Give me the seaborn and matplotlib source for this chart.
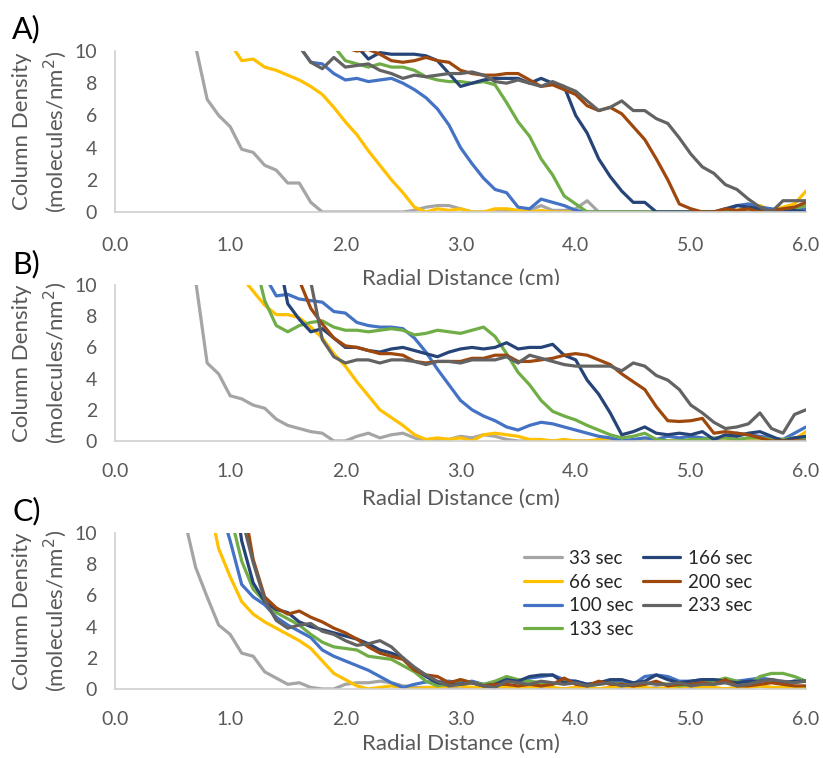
import numpy as np
import pandas as pd
import matplotlib
matplotlib.use("Agg")
import matplotlib.pyplot as plt
import seaborn as sns

# ---------------- data ----------------
X_GRID = [round(i / 10, 1) for i in range(61)]   # 0.0 ... 6.0 cm
SERIES = ["33 sec", "66 sec", "100 sec", "133 sec", "166 sec", "200 sec", "233 sec"]
COLORS = ["#A5A5A5", "#FFC000", "#4472C4", "#70AD47", "#264478", "#9E480E", "#636363"]

# ---- Panel A (start x, values) ----
A_33_start = 0.7
A_33 = [10.3, 7.0, 6.0, 5.3, 3.9, 3.7, 2.9, 2.6, 1.8, 1.8, 0.6, 0, 0, 0, 0, 0, 0, 0, 0,
        0.1, 0.3, 0.4, 0.4, 0.2, 0, 0, 0, 0.1, 0, 0.1, 0.4, 0.1, 0.1, 0.2, 0.7, 0,
        0, 0, 0, 0, 0, 0, 0, 0, 0, 0, 0, 0, 0, 0, 0, 0, 0, 0]
A_66_start = 1.0
A_66 = [10.5, 9.4, 9.5, 9.0, 8.8, 8.5, 8.2, 7.8, 7.3, 6.5, 5.6, 4.8, 3.8, 2.9, 2.0, 1.2,
        0.3, 0, 0.2, 0.1, 0.2, 0, 0, 0.2, 0.2, 0.1, 0, 0.1, 0, 0, 0,
        0, 0, 0, 0, 0, 0, 0, 0, 0, 0, 0, 0, 0, 0.1,
        0.3, 0.4, 0.1, 0.3, 0.5, 1.3]
A_100_start = 1.6
A_100 = [10.3, 9.3, 9.2, 8.6, 8.2, 8.3, 8.1, 8.2, 8.3, 8.0, 7.6, 7.1, 6.4, 5.4, 4.0, 3.0,
         2.1, 1.4, 1.2, 0.3, 0.2, 0.8, 0.6, 0.4, 0.1,
         0, 0, 0, 0, 0, 0, 0, 0, 0, 0, 0, 0, 0,
         0.4, 0.5, 0.3, 0.2, 0.1, 0.1, 0.2]
A_133_start = 1.9
A_133 = [10.3, 9.4, 9.2, 9.0, 9.2, 9.0, 9.0, 8.8, 8.4, 8.2, 8.1, 8.1, 8.0, 8.1, 7.9, 6.8,
         5.6, 4.7, 3.3, 2.3, 1.0, 0.5, 0,
         0, 0, 0, 0, 0, 0, 0, 0, 0, 0, 0, 0, 0, 0.2, 0.1, 0, 0.1, 0.2, 0.4]
A_166_start = 2.1
A_166 = [10.3, 9.5, 9.9, 9.8, 9.8, 9.8, 9.7, 9.4, 8.6, 7.8, 8.0, 8.2, 8.3, 8.3, 8.3, 8.0,
         8.3, 8.0, 7.8, 6.0, 4.9, 3.3, 2.2, 1.3, 0.6, 0.6, 0,
         0, 0, 0, 0, 0, 0.2, 0.4, 0.3, 0.2, 0, 0, 0.1, 0]
A_200_start = 2.0
A_200 = [10.2, 10.0, 10.1, 9.8, 9.4, 9.3, 9.4, 9.6, 9.4, 9.3, 8.8, 8.6, 8.5, 8.5, 8.6, 8.6,
         8.2, 7.8, 7.9, 7.6, 7.3, 6.6, 6.3, 6.5, 6.1, 5.3, 4.5, 3.3, 2.0, 0.5, 0.2, 0,
         0, 0.2, 0.1, 0.2, 0, 0.1, 0.2, 0.3, 0.6]
A_233_start = 1.6
A_233 = [10.3, 9.3, 8.9, 9.6, 9.0, 9.1, 9.2, 8.8, 8.6, 8.3, 8.5, 8.4, 8.5, 8.6, 8.6, 8.7,
         8.5, 8.1, 8.0, 8.2, 8.0, 7.8, 8.1, 7.8, 7.5, 6.9, 6.3, 6.5, 6.9, 6.3, 6.3, 5.8,
         5.5, 4.6, 3.6, 2.8, 2.4, 1.7, 1.4, 0.8, 0.3, 0, 0.7, 0.7, 0.7]

# ---- Panel B ----
B_33_start = 0.7
B_33 = [10.3, 5.0, 4.3, 2.9, 2.7, 2.3, 2.1, 1.4, 1.0, 0.8, 0.6, 0.5, 0, 0, 0.3, 0.5, 0.2,
        0.4, 0.5, 0.2, 0, 0.1, 0.1, 0.3, 0.2, 0.4, 0.3, 0.1, 0,
        0, 0, 0, 0, 0, 0, 0, 0, 0, 0, 0, 0, 0, 0, 0, 0, 0, 0, 0, 0, 0, 0, 0, 0, 0]
B_66_start = 1.1
B_66 = [10.5, 9.6, 8.7, 8.1, 8.1, 7.9, 7.3, 6.6, 5.6, 4.8, 3.8, 2.9, 2.0, 1.5, 1.0, 0.4,
        0.1, 0.2, 0.1, 0.2, 0.0, 0.4, 0.5, 0.4, 0.3, 0.1, 0.1, 0, 0.1, 0,
        0, 0.1, 0.1, 0, 0, 0, 0, 0, 0, 0, 0, 0, 0, 0, 0, 0, 0, 0, 0.1, 0.6]
B_100_start = 1.3
B_100 = [10.6, 9.3, 9.4, 9.1, 9.0, 8.9, 8.3, 8.2, 7.6, 7.4, 7.3, 7.3, 7.2, 6.6, 5.7, 4.6,
         3.6, 2.6, 2.0, 1.6, 1.3, 0.9, 0.7, 1.0, 1.2, 1.1, 0.9, 0.7, 0.5, 0.3, 0.2, 0,
         0.1, 0.2, 0.1, 0.3, 0.2, 0.3, 0.2, 0.1, 0.3, 0.5, 0.4, 0.3, 0.2, 0.1, 0.5, 0.9]
B_133_start = 1.2
B_133 = [12.0, 9.0, 7.4, 7.0, 7.4, 7.6, 7.7, 7.3, 7.1, 7.1, 7.0, 7.1, 7.2, 7.1, 6.8, 6.9,
         7.1, 7.0, 6.9, 7.1, 7.3, 6.7, 5.6, 4.4, 3.6, 2.6, 1.9, 1.6, 1.35, 1.0, 0.7, 0.4,
         0.2, 0.3, 0.5, 0.1, 0, 0, 0.1, 0.1, 0.2, 0.2, 0.1, 0.2, 0.2, 0.1, 0.1, 0.2, 0.2]
B_166_start = 1.4
B_166 = [12.5, 8.8, 7.8, 7.0, 7.2, 6.6, 6.0, 6.0, 5.8, 5.7, 5.9, 6.0, 5.8, 5.6, 5.4, 5.7,
         5.9, 6.0, 5.9, 6.0, 6.3, 5.9, 6.0, 6.0, 6.2, 5.5, 5.2, 3.9, 3.0, 1.8, 0.4, 0.6,
         0.9, 0.5, 0.4, 0.5, 0.4, 0.6, 0.1, 0.4, 0.3, 0.5, 0.6, 0.3, 0, 0.2, 0.3]
B_200_start = 1.6
B_200 = [10.3, 8.5, 7.5, 6.6, 6.1, 6.0, 5.8, 5.6, 5.6, 5.5, 5.1, 5.0, 5.1, 5.1, 5.1, 5.3,
         5.3, 5.5, 5.5, 5.1, 5.1, 5.2, 5.3, 5.5, 5.6, 5.5, 5.2, 4.9, 4.3, 3.8, 3.3, 2.2,
         1.3, 1.25, 1.3, 1.45, 0.5, 0.6, 0.5, 0.4, 0.2, 0, 0, 0, 0]
B_233_start = 1.7
B_233 = [10.2, 6.5, 5.4, 5.0, 5.2, 5.2, 5.0, 5.2, 5.2, 5.1, 4.9, 5.1, 5.1, 5.0, 5.2, 5.2,
         5.2, 5.4, 5.0, 5.5, 5.3, 5.1, 4.9, 4.8, 4.8, 4.8, 4.8, 4.5, 5.0, 4.8, 4.2, 3.9,
         3.3, 2.3, 1.8, 1.2, 0.8, 0.9, 1.1, 1.8, 0.8, 0.5, 1.7, 2.0]

# ---- Panel C ----
C_33_start = 0.6
C_33 = [11.0, 7.8, 5.9, 4.1, 3.5, 2.3, 2.1, 1.1, 0.7, 0.3, 0.4, 0.1, 0, 0, 0.3, 0.4, 0.4,
        0.5, 0.4, 0.2, 0.1, 0.1, 0.1,
        0.1, 0, 0.1, 0.1, 0, 0.1, 0, 0, 0.1, 0, 0, 0.1, 0, 0, 0.1, 0, 0, 0, 0.1, 0, 0,
        0.1, 0, 0, 0, 0.1, 0.1, 0.2, 0.1, 0.1, 0, 0.1]
C_66_start = 0.8
C_66 = [12.5, 9.0, 7.2, 5.6, 4.8, 4.3, 3.9, 3.5, 3.1, 2.6, 1.8, 1.0, 0.6, 0.2, 0, 0.1,
        0.2, 0.1, 0, 0.1, 0.1, 0.2, 0.2, 0.1, 0.1, 0.2, 0.1, 0.1, 0.1, 0.2, 0.1, 0, 0.1,
        0.1, 0, 0.1, 0.2, 0.1, 0.1, 0, 0.1, 0.1, 0.2, 0.1, 0.1, 0, 0.1, 0.1, 0.2, 0.1,
        0.1, 0.1, 0.1]
C_100_start = 0.9
C_100 = [12.0, 9.5, 6.7, 5.9, 5.4, 4.6, 4.1, 3.7, 3.3, 2.5, 2.1, 1.8, 1.5, 1.2, 0.8, 0.4,
         0.1, 0.3, 0.45, 0.45, 0.5, 0.4, 0.5, 0.3, 0.4, 0.6, 0.5, 0.7, 0.8, 0.9, 0.6,
         0.5, 0.3, 0.4, 0.5, 0.4, 0.3, 0.8, 0.9, 0.8, 0.5, 0.5, 0.6, 0.6, 0.5, 0.5, 0.6,
         0.7, 0.6, 0.4, 0.5, 0.5]
C_133_start = 1.0
C_133 = [11.2, 8.2, 6.4, 5.6, 4.9, 4.5, 4.1, 3.5, 3.0, 2.7, 2.6, 2.5, 2.1, 2.0, 1.9, 1.5,
         1.1, 0.5, 0.2, 0.3, 0.6, 0.4, 0.3, 0.5, 0.8, 0.6, 0.5, 0.4, 0.3, 0.5, 0.4, 0.2,
         0.3, 0.4, 0.3, 0.2, 0.3, 0.4, 0.3, 0.2, 0.3, 0.4, 0.5, 0.7, 0.5, 0.3, 0.8, 1.0,
         1.0, 0.8, 0.5]
C_166_start = 1.0
C_166 = [14.5, 9.5, 6.8, 5.6, 5.1, 4.9, 4.3, 4.0, 3.8, 3.6, 3.4, 3.2, 2.9, 2.5, 2.3, 2.0,
         1.3, 0.8, 0.4, 0.3, 0.3, 0.4, 0.2, 0.3, 0.6, 0.5, 0.8, 0.9, 0.9, 0.4, 0.5, 0.3,
         0.4, 0.6, 0.6, 0.4, 0.5, 0.9, 0.6, 0.4, 0.5, 0.6, 0.6, 0.5, 0.4, 0.5, 0.5, 0.6,
         0.4, 0.5, 0.5]
C_200_start = 1.1
C_200 = [12.5, 8.3, 5.9, 5.2, 4.8, 5.0, 4.6, 4.3, 3.9, 3.6, 3.2, 2.7, 2.3, 2.1, 1.9, 1.2,
         0.9, 0.8, 0.4, 0.6, 0.4, 0.2, 0.3, 0.3, 0.2, 0.3, 0.2, 0.3, 0.7, 0.3, 0.2, 0.5,
         0.3, 0.3, 0.2, 0.3, 0.5, 0.2, 0.3, 0.3, 0.4, 0.3, 0.6, 0.2, 0.2, 0.3, 0.4, 0.3,
         0.2, 0.2]
C_233_start = 1.1
C_233 = [11.0, 8.1, 5.7, 4.4, 3.9, 4.1, 4.2, 3.7, 3.5, 3.1, 2.8, 2.9, 3.1, 2.7, 2.0, 1.4,
         0.9, 0.5, 0.2, 0.3, 0.4, 0.2, 0.1, 0.5, 0.4, 0.3, 0.5, 0.4, 0.3, 0.4, 0.2, 0.3,
         0.4, 0.2, 0.3, 0.4, 0.3, 0.3, 0.4, 0.2, 0.3, 0.3, 0.4, 0.2, 0.3, 0.5, 0.6, 0.5,
         0.4, 0.5]

PANELS = {
    "A)": [(A_33_start, A_33), (A_66_start, A_66), (A_100_start, A_100), (A_133_start, A_133),
           (A_166_start, A_166), (A_200_start, A_200), (A_233_start, A_233)],
    "B)": [(B_33_start, B_33), (B_66_start, B_66), (B_100_start, B_100), (B_133_start, B_133),
           (B_166_start, B_166), (B_200_start, B_200), (B_233_start, B_233)],
    "C)": [(C_33_start, C_33), (C_66_start, C_66), (C_100_start, C_100), (C_133_start, C_133),
           (C_166_start, C_166), (C_200_start, C_200), (C_233_start, C_233)],
}
X_TICKS = [0.0, 1.0, 2.0, 3.0, 4.0, 5.0, 6.0]
Y_TICKS = [0, 2, 4, 6, 8, 10]


def to_frame(series_list):
    rows = []
    for name, (start, vals) in zip(SERIES, series_list):
        i0 = X_GRID.index(start)
        xs = X_GRID[i0:i0 + len(vals)]
        for x, v in zip(xs, vals):
            rows.append({"x": x, "y": v, "series": name})
    return pd.DataFrame(rows)


# ---------------- plot ----------------
sns.set_theme(style="white")
plt.rcParams["font.family"] = ["Lato", "DejaVu Sans"]

W, H = 823, 758
fig = plt.figure(figsize=(W / 100, H / 100), dpi=100)

# axes boxes in pixels: (left, top, right, bottom)
boxes = {"A)": (115, 51, 806, 212), "B)": (115, 285, 806, 441), "C)": (115, 533, 806, 689)}
label_pos = {"A)": 29, "B)": 264, "C)": 511}
xtick_pad = {"A)": 18, "B)": 15.5, "C)": 15.5}
xlabel_pad = {"A)": 10.5, "B)": 6.5, "C)": 4.5}

GRAY = "#595959"
palette = dict(zip(SERIES, COLORS))

for key, series_list in PANELS.items():
    l, t, r, b = boxes[key]
    ax = fig.add_axes([l / W, 1 - b / H, (r - l) / W, (b - t) / H])
    df = to_frame(series_list)
    sns.lineplot(data=df, x="x", y="y", hue="series", hue_order=SERIES, palette=palette,
                 estimator=None, sort=False, linewidth=2.3, ax=ax, legend=(key == "C)"))
    ax.set_xlim(0, 6)
    ax.set_ylim(0, 10)
    ax.set_xticks(X_TICKS)
    ax.set_xticklabels([f"{v:.1f}" for v in X_TICKS])
    ax.set_yticks(Y_TICKS)
    ax.tick_params(axis="both", length=0, colors=GRAY, labelsize=14)
    ax.tick_params(axis="x", pad=xtick_pad[key])
    ax.tick_params(axis="y", pad=13)
    for s in ["top", "right"]:
        ax.spines[s].set_visible(False)
    for s in ["left", "bottom"]:
        ax.spines[s].set_color("#D0D0D0")
        ax.spines[s].set_linewidth(1.2)
    ax.set_xlabel("Radial Distance (cm)", fontsize=16, color=GRAY, labelpad=xlabel_pad[key])
    ax.set_ylabel("Column Density\n(molecules/nm$^2$)", fontsize=16, color=GRAY,
                  labelpad=4, linespacing=1.45)
    fig.text(12 / W, 1 - label_pos[key] / H, key, fontsize=22, color="black",
             ha="left", va="center")
    if key == "C)":
        handles, labels = ax.get_legend_handles_labels()
        ax.legend(handles, labels, ncol=2, frameon=False, fontsize=13.5,
                  loc="upper left", bbox_to_anchor=(524 / W, 1 - 550 / H),
                  bbox_transform=fig.transFigure, borderaxespad=0, borderpad=0,
                  handlelength=2.0, handletextpad=0.4, columnspacing=0.5,
                  labelspacing=0.35, labelcolor="#262626")

fig.savefig("out.png", dpi=100)
